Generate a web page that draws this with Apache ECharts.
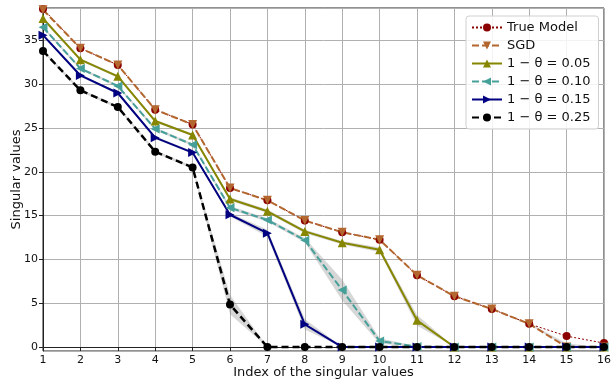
<!DOCTYPE html>
<html>
<head>
<meta charset="utf-8">
<script src="https://cdn.jsdelivr.net/npm/echarts@6/dist/echarts.min.js"></script>
<style>html,body{margin:0;padding:0;background:#fff}#c{width:613px;height:382px}</style>
</head>
<body>
<div id="c"></div>
<script>
const categories = ['1','2','3','4','5','6','7','8','9','10','11','12','13','14','15','16'];
const trueModel = [38.6, 34.1, 32.2, 27.1, 25.4, 18.15, 16.75, 14.45, 13.1, 12.25, 8.2, 5.8, 4.35, 2.65, 1.25, 0.45];
const sgd       = [38.5, 34.1, 32.2, 27.1, 25.4, 18.15, 16.75, 14.45, 13.1, 12.25, 8.2, 5.8, 4.35, 2.65, 0, 0];
const th005     = [37.5, 32.8, 30.9, 25.8, 24.2, 16.9, 15.5, 13.2, 11.9, 11.1, 3.05, 0, 0, 0, 0, 0];
const th010     = [36.5, 31.8, 29.8, 24.9, 23.1, 15.9, 14.5, 12.2, 6.5, 0.7, 0.05, 0, 0, 0, 0, 0];
const th015     = [35.6, 31.0, 29.0, 23.9, 22.2, 15.1, 13.0, 2.6, 0, 0, 0, 0, 0, 0, 0, 0];
const th025     = [33.8, 29.3, 27.4, 22.3, 20.5, 4.85, 0, 0, 0, 0, 0, 0, 0, 0, 0, 0];
// spread (half-width of the grey band) per point
const sgdSpread   = [0, 0, 0, 0, 0, 0, 0, 0, 0, 0, 0, 0, 0, 0.1, 0.2, 0];
const sp005       = [0.15, 0.15, 0.15, 0.15, 0.15, 0.2, 0.2, 0.2, 0.2, 0.25, 0.6, 0, 0, 0, 0, 0];
const sp010       = [0.15, 0.15, 0.15, 0.15, 0.15, 0.2, 0.2, 0.25, 1.2, 0.3, 0.05, 0, 0, 0, 0, 0];
const sp015       = [0.15, 0.15, 0.15, 0.15, 0.15, 0.2, 0.4, 0.6, 0, 0, 0, 0, 0, 0, 0, 0];
const sp025       = [0.15, 0.15, 0.15, 0.15, 0.15, 1.1, 0, 0, 0, 0, 0, 0, 0, 0, 0, 0];
const legendNames = ['True Model', 'SGD', '1 − θ = 0.05', '1 − θ = 0.10', '1 − θ = 0.15', '1 − θ = 0.25'];

const FONT = 'DejaVu Sans';
function band(id, vals, sp) {
  const lower = vals.map((v, i) => v - sp[i]);
  const width = vals.map((v, i) => 2 * sp[i]);
  return [
    { name: 'lo' + id, type: 'line', stack: 'b' + id, data: lower, symbol: 'none', silent: true,
      lineStyle: { opacity: 0 }, z: 1, animation: false },
    { name: 'bd' + id, type: 'line', stack: 'b' + id, data: width, symbol: 'none', silent: true,
      lineStyle: { opacity: 0 }, areaStyle: { color: 'rgba(128,128,128,0.45)' }, z: 1, animation: false }
  ];
}
function main(name, vals, color, lt, lw, sym, rot, size) {
  return { name: name, type: 'line', data: vals, color: color, symbol: sym, symbolSize: size, symbolRotate: rot,
    lineStyle: { color: color, width: lw, type: lt }, itemStyle: { color: color, borderWidth: 0 },
    z: 3, animation: false };
}
const series = [].concat(
  band('s', sgd, sgdSpread), band('a', th005, sp005), band('b', th010, sp010),
  band('c', th015, sp015), band('d', th025, sp025),
  [
    main(legendNames[0], trueModel, '#8b0000', [2, 2], 1, 'circle', 0, 8),
    main(legendNames[1], sgd, '#b3672e', [7, 3], 2, 'triangle', 180, 9),
    main(legendNames[2], th005, '#868600', 'solid', 2, 'triangle', 0, 9),
    main(legendNames[3], th010, '#46a09a', [7, 3], 2, 'triangle', 90, 9),
    main(legendNames[4], th015, '#000080', 'solid', 2, 'triangle', -90, 9),
    main(legendNames[5], th025, '#000000', [7, 4], 2.5, 'circle', 0, 8)
  ]
);

const chart = echarts.init(document.getElementById('c'), null, { renderer: 'canvas' });
chart.setOption({
  animation: false,
  backgroundColor: '#fff',
  textStyle: { fontFamily: FONT },
  grid: { left: 43, right: 9, top: 8, bottom: 31, containLabel: false, outerBoundsMode: 'none',
          show: true, borderColor: '#222', borderWidth: 1, backgroundColor: 'transparent' },
  legend: {
    data: legendNames, orient: 'vertical', left: 466, top: 16,
    padding: [5, 8, 5, 5], itemGap: 5, itemWidth: 30, itemHeight: 10,
    backgroundColor: 'rgba(255,255,255,0.85)', borderColor: '#d0d0d0', borderWidth: 1, borderRadius: 3,
    textStyle: { fontFamily: FONT, fontSize: 13, color: '#111' }
  },
  xAxis: {
    type: 'category', data: categories, boundaryGap: false,
    name: 'Index of the singular values', nameLocation: 'middle', nameGap: 15, nameMoveOverlap: false,
    nameTextStyle: { fontFamily: FONT, fontSize: 13, color: '#111' },
    axisLine: { lineStyle: { color: '#222', width: 1 } },
    axisTick: { show: true, alignWithLabel: true, length: 4, lineStyle: { color: '#222' } },
    axisLabel: { fontFamily: FONT, fontSize: 11, color: '#111', margin: 4, interval: 0 },
    splitLine: { show: true, interval: 0, lineStyle: { color: '#b0b0b0', width: 1 } }
  },
  yAxis: {
    type: 'value', min: -0.45, max: 38.7, splitNumber: 8,
    name: 'Singular values', nameLocation: 'middle', nameGap: 20, nameMoveOverlap: false,
    nameTextStyle: { fontFamily: FONT, fontSize: 13, color: '#111' },
    axisLine: { show: true, lineStyle: { color: '#222', width: 1 } },
    axisTick: { show: true, length: 4, lineStyle: { color: '#222' } },
    axisLabel: { fontFamily: FONT, fontSize: 11, color: '#111', margin: 5, showMinLabel: false, showMaxLabel: false },
    splitLine: { show: true, lineStyle: { color: '#b0b0b0', width: 1 } }
  },
  series: series
});
</script>
</body>
</html>
